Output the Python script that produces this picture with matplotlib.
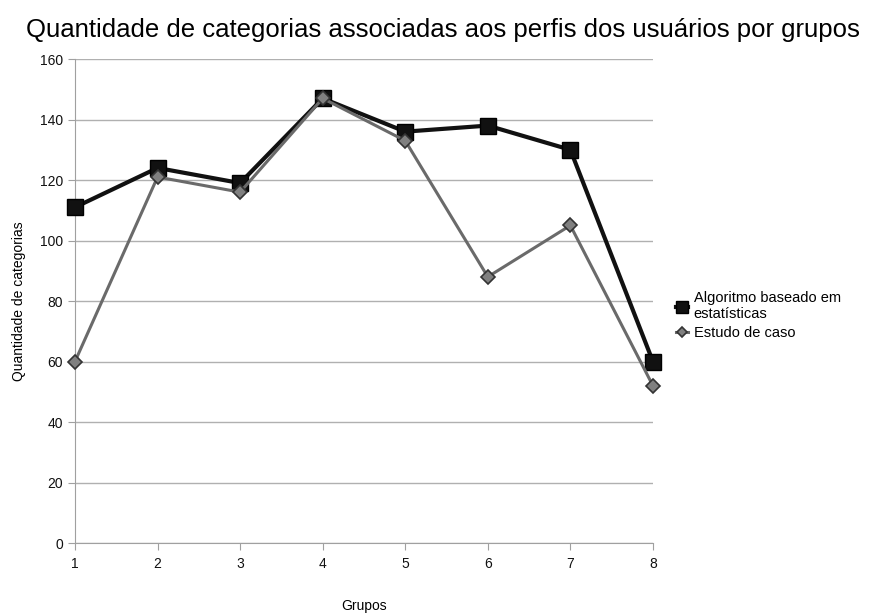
import matplotlib
matplotlib.use('Agg')
import matplotlib.pyplot as plt

plt.rcParams['font.family'] = ['Liberation Sans', 'DejaVu Sans']

grupos = [1, 2, 3, 4, 5, 6, 7, 8]
algoritmo = [111, 124, 119, 147, 136, 138, 130, 60]
estudo = [60, 121, 116, 147, 133, 88, 105, 52]

fig = plt.figure(figsize=(8.77, 6.15), dpi=100)
ax = fig.add_axes([0.0855, 0.117, 0.659, 0.787])

ax.plot(grupos, algoritmo, color='#111111', lw=3, marker='s', ms=11,
        mfc='#111111', mec='#000000', label='Algoritmo baseado em\nestatísticas',
        zorder=3, clip_on=False)
ax.plot(grupos, estudo, color='#6a6a6a', lw=2.2, marker='D', ms=7,
        mfc='#808080', mec='#333333', mew=1.2, label='Estudo de caso',
        zorder=4, clip_on=False)

ax.set_xlim(1, 8)
ax.set_ylim(0, 160)
ax.set_yticks(range(0, 161, 20))
ax.set_xticks(grupos)
ax.yaxis.grid(True, color='#b0b0b0', lw=1)
ax.set_axisbelow(True)
for s in ['top', 'right']:
    ax.spines[s].set_visible(False)
for s in ['left', 'bottom']:
    ax.spines[s].set_color('#a0a0a0')
ax.tick_params(colors='#a0a0a0', labelcolor='#111111', labelsize=10, length=5)
ax.tick_params(axis='x', pad=5)

ax.set_xlabel('Grupos', fontsize=10, labelpad=20)
ax.set_ylabel('Quantidade de categorias', fontsize=10, labelpad=10)

fig.text(0.505, 0.951, 'Quantidade de categorias associadas aos perfis dos usuários por grupos',
         ha='center', va='center', fontsize=18.5)

ax.legend(loc='center left', bbox_to_anchor=(1.03, 0.47), frameon=False,
          fontsize=10.5, handlelength=0.8, handletextpad=0.4, labelspacing=0.3,
          markerscale=0.75, borderaxespad=0)

fig.savefig('out.png', dpi=100)
